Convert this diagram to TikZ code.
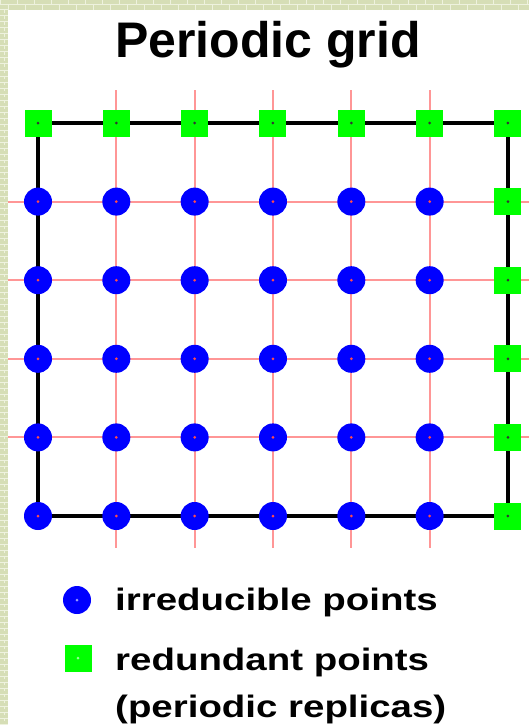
\documentclass[tikz,border=0pt]{standalone}
\usepackage{fontspec}
\setmainfont{Liberation Sans}
\newfontfamily\legendfont[FakeStretch=1.24]{Liberation Sans}
\usetikzlibrary{positioning}
\definecolor{brick}{RGB}{214,222,182}
\definecolor{mortar}{RGB}{238,242,222}
\definecolor{gridred}{RGB}{255,150,150}
\tikzset{
  irred/.style={circle, fill=blue, minimum size=28pt, inner sep=0pt},
  redund/.style={rectangle, fill=green, minimum size=27pt, inner sep=0pt},
  gridline/.style={gridred, line width=2pt},
  frameline/.style={black, line width=4pt},
  keytext/.style={anchor=base west, inner sep=0pt, font=\legendfont\fontsize{31}{31}\selectfont\bfseries}
}

\begin{document}
\begin{tikzpicture}[x=1pt, y=-1pt]
    \useasboundingbox (0,0) rectangle (529,725);
    % brick border
    \fill[brick] (0,0) rectangle (529,725);
    \foreach \k in {0,...,31} {
      \draw[mortar, line width=1pt] (\k*17,0) -- (\k*17,5);
      \draw[mortar, line width=1pt] (\k*17+8.5,5) -- (\k*17+8.5,10);
    }
    \draw[mortar, line width=1pt] (0,5) -- (529,5);
    \foreach \k in {0,...,119} {
      \draw[mortar, line width=1pt] (0,10+6*\k) -- (8,10+6*\k);
      \draw[mortar, line width=1pt] (4,10+6*\k) -- (4,13+6*\k);
    }
    \fill[white] (8,10) rectangle (529,725);

    \node[anchor=base, inner sep=0pt, font=\fontsize{50}{50}\selectfont\bfseries] (title) at (268,58) {Periodic grid};

    % grid positions
    \foreach \i in {0,...,6} {
      \foreach \j in {0,...,5} {
        \coordinate (c-\i-\j) at ({38+78.33*\i},{123+78.6*\j});
      }
    }
    % red grid lines
    \foreach \i in {1,...,5} {
      \coordinate (vt-\i) at ({38+78.33*\i},90);
      \coordinate (vb-\i) at ({38+78.33*\i},548);
      \draw[gridline] (vt-\i) -- (vb-\i);
    }
    \foreach \j in {1,...,4} {
      \coordinate (hl-\j) at (8,{123+78.6*\j});
      \coordinate (hr-\j) at (529,{123+78.6*\j});
      \draw[gridline] (hl-\j) -- (hr-\j);
    }
    \draw[frameline] (c-0-0) rectangle (c-6-5);

    % points
    \foreach \i in {0,...,5} {
      \foreach \j in {1,...,5} {
        \node[irred] (p-\i-\j) at (c-\i-\j) {};
        \fill[red!70] (p-\i-\j.center) circle (1.5);
      }
    }
    \foreach \i in {0,...,6} {
      \node[redund] (p-\i-0) at (c-\i-0) {};
      \fill[black!80] (p-\i-0.center) circle (1.5);
    }
    \foreach \j in {1,...,5} {
      \node[redund] (p-6-\j) at (c-6-\j) {};
      \fill[black!80] (p-6-\j.center) circle (1.5);
    }

    % legend
    \node[irred] (key-irred) at (77,600) {};
    \fill[blue!40] (key-irred.center) circle (1.5);
    \node[redund] (key-redund) at (78,658) {};
    \fill[green!40!white] (key-redund.center) circle (1.5);
    \node[keytext] (txt-irred) at (115,610) {irreducible points};
    \node[keytext] (txt-redund) at (115,670) {redundant points};
    \node[keytext] (txt-replica) at (115,717) {(periodic replicas)};
\end{tikzpicture}
\end{document}
